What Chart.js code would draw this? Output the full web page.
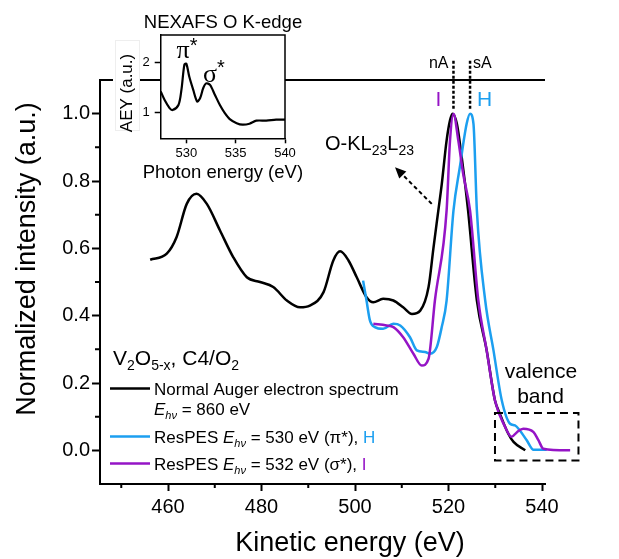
<!DOCTYPE html>
<html>
<head>
<meta charset="utf-8">
<script src="https://cdn.jsdelivr.net/npm/chart.js@4.4.1/dist/chart.umd.min.js"></script>
<style>
  html, body { margin: 0; padding: 0; background: #fff; }
  #wrap { position: relative; width: 619px; height: 559px; }
  #mainChart { position: absolute; left: 0; top: 0; }
  #insetChart { position: absolute; left: 110px; top: 0; }
</style>
</head>
<body>
<div id="wrap">
  <canvas id="mainChart" width="619" height="559"></canvas>
  <canvas id="insetChart" width="196" height="183"></canvas>
</div>
<script>
const FONT = "'Liberation Sans', Arial, Helvetica, sans-serif";
const SERIF = "'Liberation Serif', 'Times New Roman', serif";
const BLUE = '#1c9ff0';
const PURPLE = '#9514c6';

// Normal Auger electron spectrum, E_hv = 860 eV
const augerKE = [456.18, 459.73, 461.82, 464.01, 466.10, 468.30, 471.12, 473.94, 476.86, 479.69,
  482.51, 485.43, 488.25, 490.34, 493.27, 495.36, 496.82, 498.60, 500.37, 502.46, 503.92, 506.01,
  508.21, 510.30, 512.18, 513.95, 515.73, 516.77, 517.82, 518.55, 519.59, 520.32, 520.85, 521.79,
  522.83, 523.56, 524.19, 526.07, 528.16, 529.94, 530.98, 532.76, 533.91, 536.41];
const augerInt = [0.566, 0.584, 0.633, 0.732, 0.762, 0.732, 0.653, 0.574, 0.514, 0.50,
  0.485, 0.445, 0.425, 0.43, 0.47, 0.564, 0.591, 0.564, 0.514, 0.455, 0.44, 0.45,
  0.445, 0.425, 0.405, 0.415, 0.485, 0.60, 0.712, 0.79, 0.92, 0.98, 1.0, 0.97,
  0.87, 0.79, 0.712, 0.445, 0.297, 0.148, 0.109, 0.05, 0.025, 0.0];

// ResPES at E_hv = 530 eV (pi*)
const piKE = [501.73, 502.46, 503.19, 504.24, 506.01, 508.21, 509.67, 511.76, 513.22, 515.00,
  516.04, 517.50, 518.55, 519.59, 521.06, 522.41, 523.88, 524.61, 525.34, 526.07, 527.85, 529.62,
  531.40, 533.17, 534.22, 535.26, 536.73, 538.19, 541.01];
const piInt = [0.504, 0.445, 0.386, 0.366, 0.361, 0.376, 0.371, 0.336, 0.297, 0.292,
  0.287, 0.307, 0.366, 0.445, 0.712, 0.84, 0.97, 1.0, 0.97, 0.712, 0.445, 0.297,
  0.148, 0.079, 0.074, 0.059, 0.03, 0.002, 0.002];

// ResPES at E_hv = 532 eV (sigma*)
const sigmaKE = [503.92, 506.74, 508.21, 510.30, 512.49, 514.27, 515.73, 517.09, 519.59, 520.32,
  521.06, 522.10, 523.15, 524.61, 526.38, 528.16, 529.94, 532.13, 533.49, 534.64, 535.99, 538.19,
  539.23, 540.28, 546.02];
const sigmaInt = [0.376, 0.371, 0.366, 0.336, 0.287, 0.252, 0.272, 0.445, 0.712, 0.92,
  1.0, 0.92, 0.82, 0.712, 0.445, 0.297, 0.148, 0.069, 0.04, 0.054, 0.064, 0.054,
  0.03, 0.005, 0.0];

// NEXAFS O K-edge (inset)
const nexafsE = [527.4, 527.8, 528.3, 528.6, 529.2, 529.5, 529.8, 530.0, 530.3, 530.7, 531.1, 531.4,
  531.7, 532.0, 532.4, 532.9, 533.4, 533.9, 534.4, 535.1, 535.7, 536.4, 537.1, 538.1, 539.1, 540.0];
const nexafsAEY = [1.42, 1.25, 1.09, 1.05, 1.15, 1.45, 1.95, 1.97, 1.71, 1.45, 1.22, 1.29,
  1.48, 1.58, 1.55, 1.35, 1.15, 0.99, 0.87, 0.79, 0.76, 0.78, 0.84, 0.84, 0.86, 0.86];

const keTicks = [460, 480, 500, 520, 540];
const keMinor = [450, 470, 490, 510, 530];
const intTicks = [0, 0.2, 0.4, 0.6, 0.8, 1.0];
const intMinor = [0.1, 0.3, 0.5, 0.7, 0.9];
const photonTicks = [530, 535, 540];
const aeyTicks = [1, 2];

// normal (nA) and spectator (sA) Auger peak positions
const nAKE = 521.06;
const sAKE = 524.61;

Chart.defaults.color = '#000';
Chart.defaults.font.family = FONT;

function xy(xs, ys) {
  return xs.map((x, i) => ({ x: x, y: ys[i] }));
}

// draw a row of text pieces (for sub/superscripts and mixed styles)
function runs(ctx, x, y, parts) {
  ctx.textAlign = 'left';
  ctx.textBaseline = 'alphabetic';
  parts.forEach(p => {
    ctx.font = (p.style || '') + ' ' + (p.size || 17) + 'px ' + (p.family || FONT);
    ctx.fillStyle = p.color || '#000';
    ctx.fillText(p.t, x, y + (p.dy || 0));
    x += ctx.measureText(p.t).width;
  });
}

function ehv(size) {
  return [
    { t: 'E', style: 'italic', size: size },
    { t: 'hν', style: 'italic', size: 11, dy: 4 }
  ];
}

const annotate = {
  id: 'annotate',
  afterDraw(chart) {
    const ctx = chart.ctx;
    const a = chart.chartArea;
    const x = chart.scales.x, y = chart.scales.y;
    ctx.save();
    ctx.strokeStyle = '#000';
    ctx.lineWidth = 2;

    // top frame line
    ctx.beginPath();
    ctx.moveTo(a.left - 1, a.top);
    ctx.lineTo(a.right, a.top);
    ctx.stroke();

    // minor ticks
    ctx.beginPath();
    keMinor.forEach(v => {
      const px = x.getPixelForValue(v);
      ctx.moveTo(px, a.bottom);
      ctx.lineTo(px, a.bottom + 4);
    });
    intMinor.forEach(v => {
      const py = y.getPixelForValue(v);
      ctx.moveTo(a.left, py);
      ctx.lineTo(a.left - 5, py);
    });
    ctx.stroke();

    // axis titles
    ctx.fillStyle = '#000';
    ctx.font = '27px ' + FONT;
    ctx.textAlign = 'center';
    ctx.textBaseline = 'alphabetic';
    ctx.fillText('Kinetic energy (eV)', 350, 551);
    ctx.save();
    ctx.translate(35, 259);
    ctx.rotate(-Math.PI / 2);
    ctx.fillText('Normalized intensity (a.u.)', 0, 0);
    ctx.restore();

    // nA / sA markers
    ctx.lineWidth = 2.5;
    ctx.setLineDash([3, 2]);
    [nAKE, sAKE].forEach(e => {
      const px = x.getPixelForValue(e);
      ctx.beginPath();
      ctx.moveTo(px, y.getPixelForValue(1.157));
      ctx.lineTo(px, y.getPixelForValue(1.01));
      ctx.stroke();
    });

    // dashed arrow towards O-KL23L23 label
    const tx = x.getPixelForValue(516.41), ty = y.getPixelForValue(0.732);
    const hx = x.getPixelForValue(508.56), hy = y.getPixelForValue(0.841);
    const ang = Math.atan2(hy - ty, hx - tx);
    ctx.lineWidth = 2;
    ctx.setLineDash([4, 3]);
    ctx.beginPath();
    ctx.moveTo(tx, ty);
    ctx.lineTo(hx - 8 * Math.cos(ang), hy - 8 * Math.sin(ang));
    ctx.stroke();
    ctx.setLineDash([]);
    ctx.beginPath();
    ctx.moveTo(hx, hy);
    ctx.lineTo(hx - 11 * Math.cos(ang) + 5 * Math.sin(ang), hy - 11 * Math.sin(ang) - 5 * Math.cos(ang));
    ctx.lineTo(hx - 11 * Math.cos(ang) - 5 * Math.sin(ang), hy - 11 * Math.sin(ang) + 5 * Math.cos(ang));
    ctx.closePath();
    ctx.fill();

    // valence band box
    ctx.lineWidth = 2;
    ctx.setLineDash([8, 5]);
    const bx0 = x.getPixelForValue(529.94), bx1 = x.getPixelForValue(547.8);
    const by0 = y.getPixelForValue(0.111), by1 = y.getPixelForValue(-0.03);
    ctx.strokeRect(bx0, by0, bx1 - bx0, by1 - by0);
    ctx.setLineDash([]);

    // labels
    ctx.font = '21px ' + FONT;
    ctx.textAlign = 'center';
    ctx.fillText('valence', 541, 378);
    ctx.fillText('band', 540.5, 403);

    ctx.font = '16px ' + FONT;
    ctx.textAlign = 'right';
    ctx.fillText('nA', x.getPixelForValue(nAKE) - 5, 68);
    ctx.textAlign = 'left';
    ctx.fillText('sA', x.getPixelForValue(sAKE) + 3, 68);

    ctx.font = '21px ' + FONT;
    ctx.textAlign = 'center';
    ctx.fillStyle = PURPLE;
    ctx.fillText('I', x.getPixelForValue(nAKE) - 15, 106);
    ctx.fillStyle = BLUE;
    ctx.textAlign = 'left';
    ctx.fillText('H', x.getPixelForValue(sAKE) + 7, 106);

    runs(ctx, 325, 150, [
      { t: 'O-KL', size: 20 }, { t: '23', size: 14, dy: 5 },
      { t: 'L', size: 20 }, { t: '23', size: 14, dy: 5 }
    ]);

    // sample + legend
    runs(ctx, 113, 365, [
      { t: 'V', size: 21 }, { t: '2', size: 14, dy: 5 },
      { t: 'O', size: 21 }, { t: '5-x', size: 14, dy: 5 },
      { t: ', C4/O', size: 21 }, { t: '2', size: 14, dy: 5 }
    ]);

    const legendRows = [
      { color: '#000', mid: 388.5 },
      { color: BLUE, mid: 436.5 },
      { color: PURPLE, mid: 463.5 }
    ];
    ctx.lineWidth = 2.5;
    legendRows.forEach(r => {
      ctx.strokeStyle = r.color;
      ctx.beginPath();
      ctx.moveTo(110, r.mid);
      ctx.lineTo(150, r.mid);
      ctx.stroke();
    });
    runs(ctx, 154, 394.5, [{ t: 'Normal Auger electron spectrum' }]);
    runs(ctx, 154, 415, ehv(17).concat([{ t: ' = 860 eV' }]));
    runs(ctx, 154, 443, [{ t: 'ResPES ' }].concat(ehv(17), [
      { t: ' = 530 eV (π*), ' }, { t: 'H', color: BLUE }
    ]));
    runs(ctx, 154, 470, [{ t: 'ResPES ' }].concat(ehv(17), [
      { t: ' = 532 eV (σ*), ' }, { t: 'I', color: PURPLE }
    ]));
    ctx.restore();
  }
};

new Chart(document.getElementById('mainChart'), {
  type: 'line',
  data: {
    datasets: [
      { label: 'ResPES 532 eV', data: xy(sigmaKE, sigmaInt), borderColor: PURPLE },
      { label: 'ResPES 530 eV', data: xy(piKE, piInt), borderColor: BLUE },
      { label: 'Normal Auger', data: xy(augerKE, augerInt), borderColor: '#000' }
    ]
  },
  options: {
    responsive: false,
    animation: false,
    devicePixelRatio: 1,
    layout: { padding: { left: 0, top: 80, right: 74, bottom: 0 } },
    elements: {
      point: { radius: 0 },
      line: { borderWidth: 2.5, cubicInterpolationMode: 'monotone', fill: false }
    },
    datasets: { line: { clip: false } },
    plugins: { legend: { display: false }, tooltip: { enabled: false } },
    scales: {
      x: {
        type: 'linear',
        min: 445.45,
        max: 540.64,
        afterFit: s => { s.height = 75; },
        afterBuildTicks: s => { s.ticks = keTicks.map(v => ({ value: v })); },
        ticks: { font: { size: 20 }, padding: 4, maxRotation: 0, callback: v => String(v) },
        grid: { drawOnChartArea: false, tickLength: 7, tickWidth: 2, tickColor: '#000' },
        border: { color: '#000', width: 2 }
      },
      y: {
        min: -0.1,
        max: 1.1,
        afterFit: s => { s.width = 100; },
        afterBuildTicks: s => { s.ticks = intTicks.map(v => ({ value: v })); },
        ticks: { font: { size: 20 }, padding: 2, callback: v => v.toFixed(1) },
        grid: { drawOnChartArea: false, tickLength: 8, tickWidth: 2, tickColor: '#000' },
        border: { color: '#000', width: 2 }
      }
    }
  },
  plugins: [annotate]
});

// inset: white plot area, closed frame, titles and peak labels
const insetDecor = {
  id: 'insetDecor',
  beforeDraw(chart) {
    const ctx = chart.ctx, a = chart.chartArea;
    ctx.save();
    ctx.fillStyle = '#fff';
    ctx.fillRect(a.left, a.top, a.right - a.left, a.bottom - a.top);
    // label box behind the AEY axis title
    ctx.fillRect(3, 40, 27, 100);
    ctx.strokeStyle = '#eeeeee';
    ctx.lineWidth = 1;
    ctx.strokeRect(5.5, 40.5, 24, 90);
    ctx.restore();
  },
  afterDraw(chart) {
    const ctx = chart.ctx, a = chart.chartArea;
    ctx.save();
    ctx.strokeStyle = '#000';
    ctx.lineWidth = 1.5;
    ctx.beginPath();
    ctx.moveTo(a.left, a.top);
    ctx.lineTo(a.right, a.top);
    ctx.lineTo(a.right, a.bottom);
    ctx.stroke();

    ctx.fillStyle = '#000';
    ctx.textAlign = 'center';
    ctx.textBaseline = 'alphabetic';
    ctx.font = '18.5px ' + FONT;
    ctx.fillText('NEXAFS O K-edge', 113, 28);
    ctx.fillText('Photon energy (eV)', (a.left + a.right) / 2, 178);

    ctx.save();
    ctx.translate(17.5, 93);
    ctx.rotate(-Math.PI / 2);
    ctx.textBaseline = 'middle';
    ctx.font = '17px ' + FONT;
    ctx.fillText('AEY (a.u.)', 0, 0);
    ctx.restore();

    runs(ctx, 66.5, 58, [{ t: 'π', size: 26, family: SERIF }, { t: '*', size: 20, dy: -6 }]);
    runs(ctx, 93, 82, [{ t: 'σ', size: 26, family: SERIF }, { t: '*', size: 20, dy: -8 }]);
    ctx.restore();
  }
};

new Chart(document.getElementById('insetChart'), {
  type: 'line',
  data: { datasets: [{ label: 'NEXAFS', data: xy(nexafsE, nexafsAEY), borderColor: '#000', borderWidth: 2.2 }] },
  options: {
    responsive: false,
    animation: false,
    devicePixelRatio: 1,
    layout: { padding: { left: 0, top: 35, right: 21, bottom: 0 } },
    elements: { point: { radius: 0 }, line: { tension: 0.3 } },
    plugins: { legend: { display: false }, tooltip: { enabled: false } },
    scales: {
      x: {
        type: 'linear',
        min: 527.4,
        max: 540,
        afterFit: s => { s.height = 44.7; },
        afterBuildTicks: s => { s.ticks = photonTicks.map(v => ({ value: v })); },
        ticks: { font: { size: 13 }, padding: 2, maxRotation: 0, callback: v => String(v) },
        grid: { drawOnChartArea: false, tickLength: 5, tickWidth: 1.5, tickColor: '#000' },
        border: { color: '#000', width: 1.5 }
      },
      y: {
        min: 0.49,
        max: 2.54,
        afterFit: s => { s.width = 50.7; },
        afterBuildTicks: s => { s.ticks = aeyTicks.map(v => ({ value: v })); },
        ticks: { font: { size: 13 }, padding: 5, callback: v => String(v) },
        grid: { drawOnChartArea: false, tickLength: 6, tickWidth: 1.5, tickColor: '#000' },
        border: { color: '#000', width: 1.5 }
      }
    }
  },
  plugins: [insetDecor]
});
</script>
</body>
</html>
